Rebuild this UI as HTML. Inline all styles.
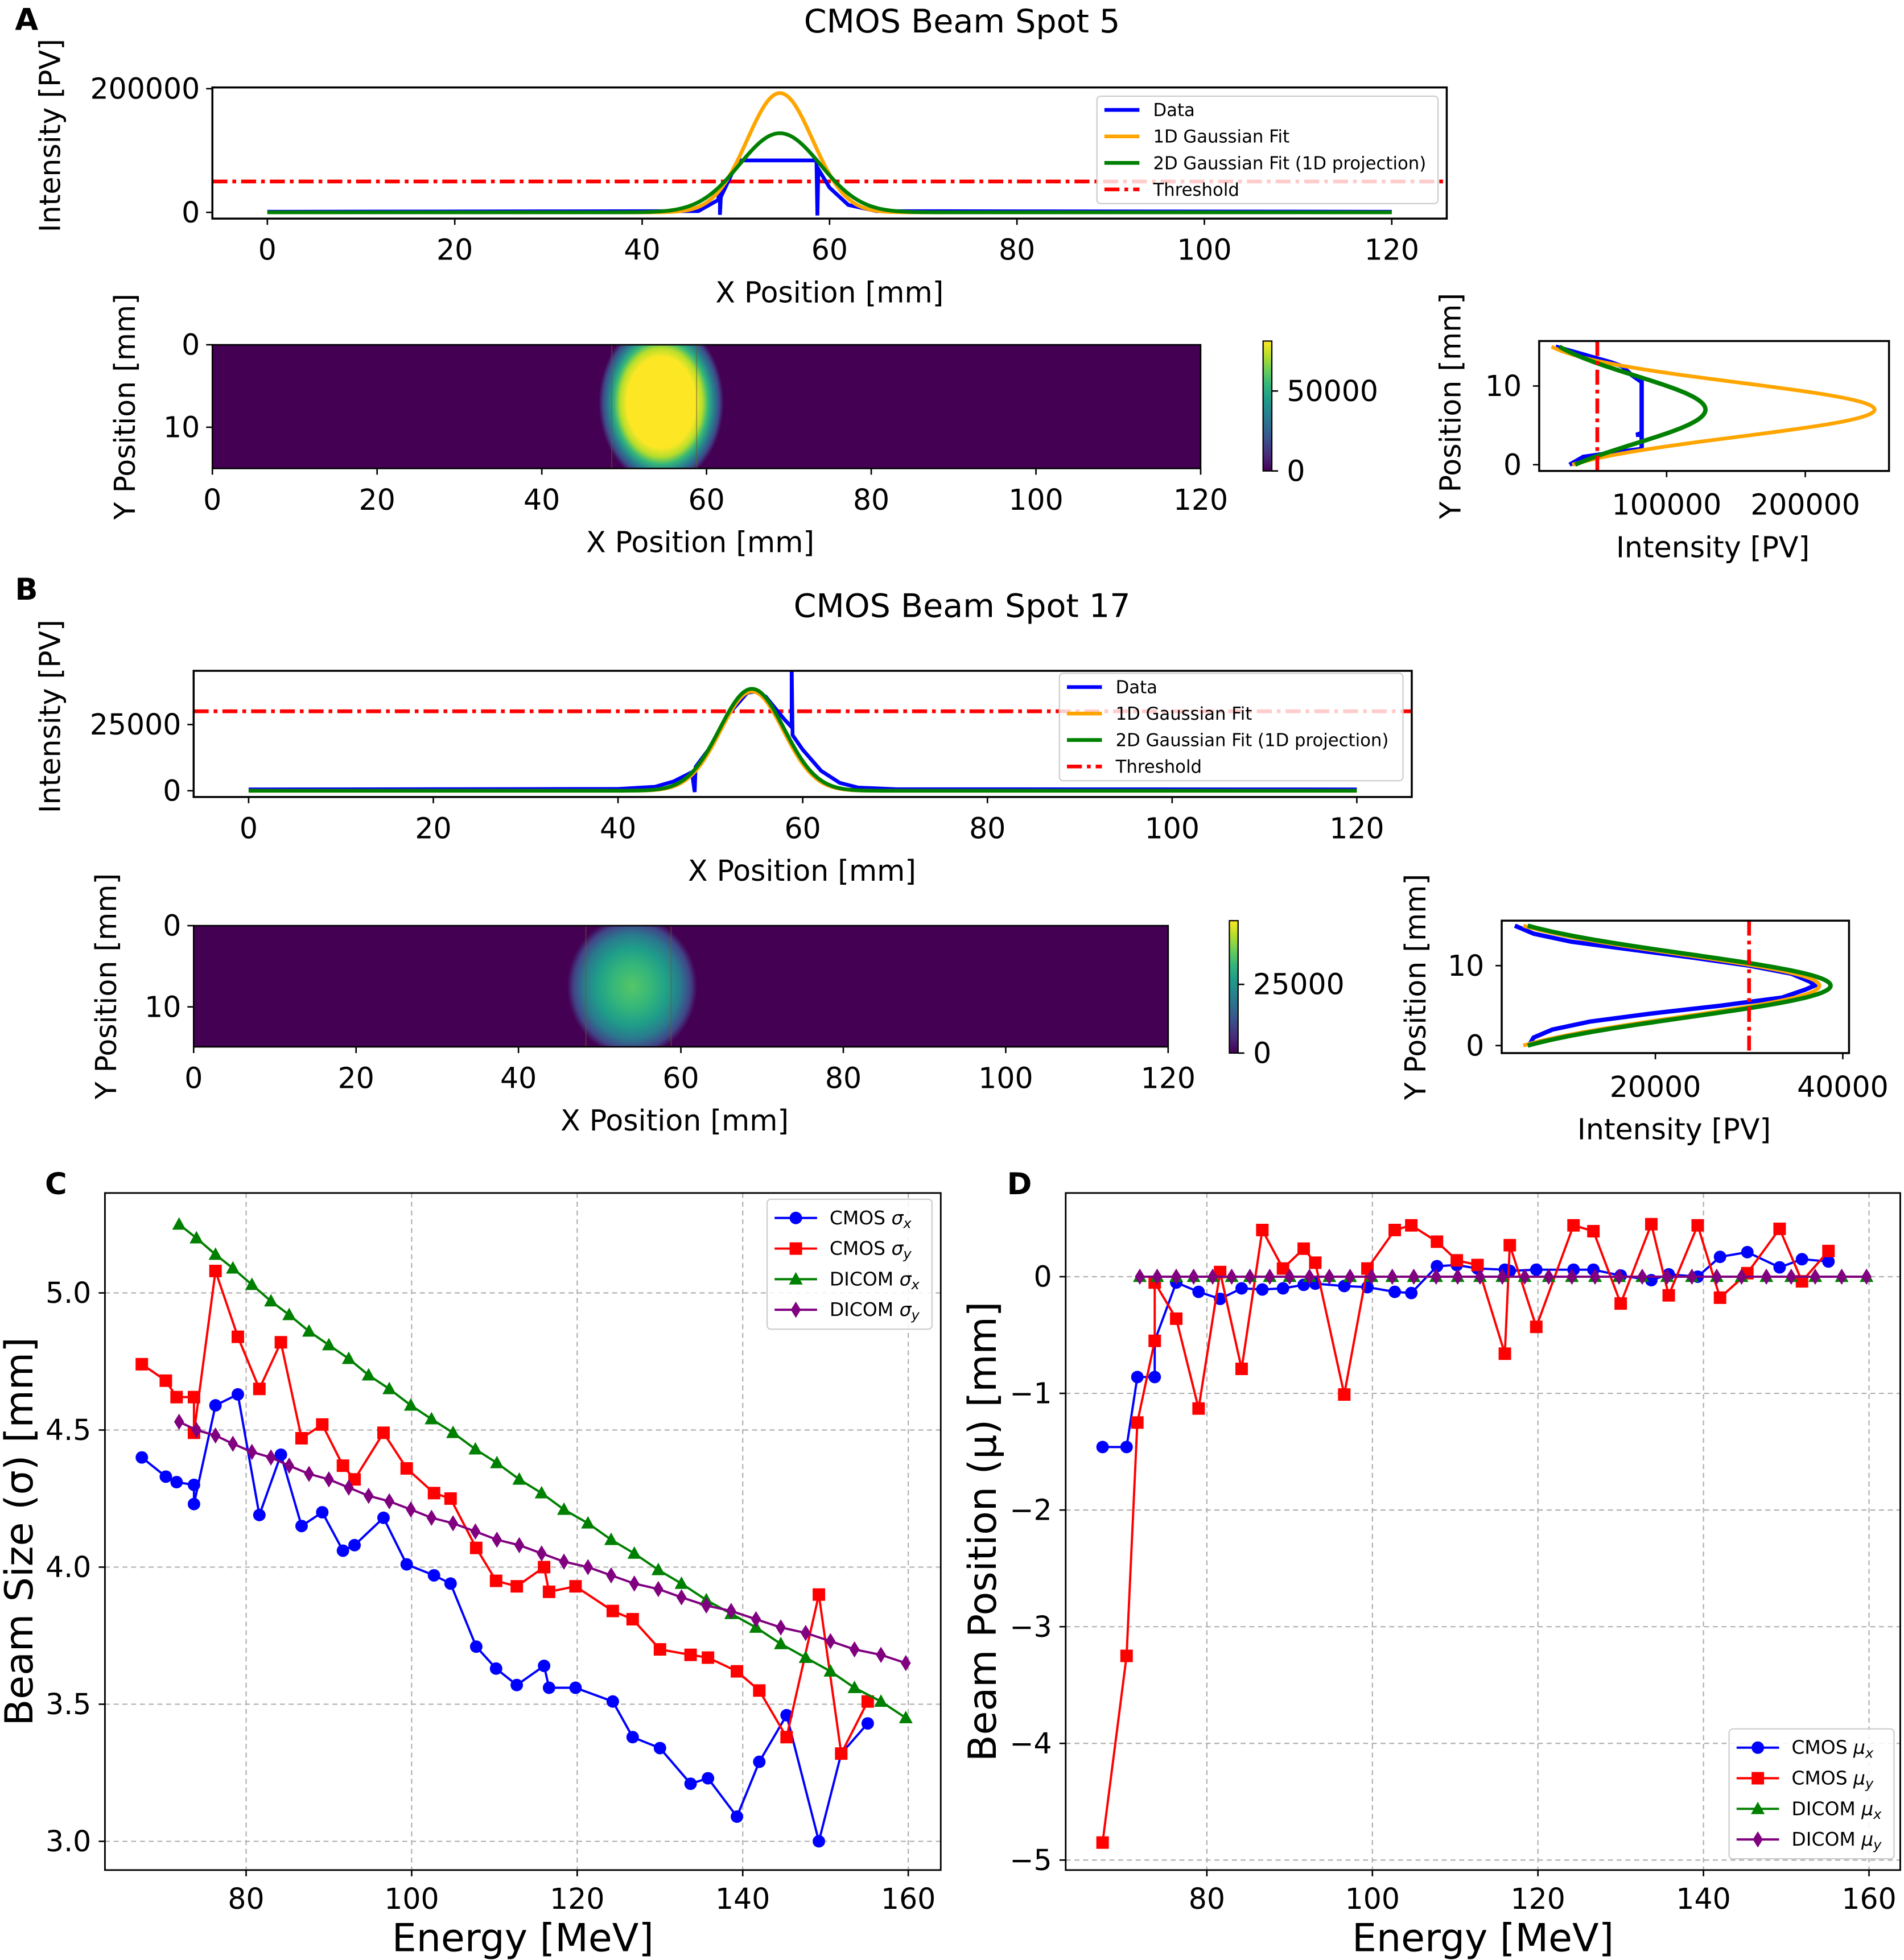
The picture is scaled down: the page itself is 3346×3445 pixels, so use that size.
<!DOCTYPE html>
<html><head><meta charset="utf-8"><style>
html,body{margin:0;padding:0;background:#fff;}
svg{display:block;font-family:"DejaVu Sans","Liberation Sans",sans-serif;}
</style></head><body>
<svg id="fig" width="3346" height="3445" viewBox="0 0 1524 1569" preserveAspectRatio="none" xmlns="http://www.w3.org/2000/svg">
<defs>
<linearGradient id="viridis" x1="0" y1="1" x2="0" y2="0">
<stop offset="0" stop-color="#440154"/><stop offset="0.11" stop-color="#482878"/><stop offset="0.22" stop-color="#3e4989"/><stop offset="0.33" stop-color="#31688e"/><stop offset="0.44" stop-color="#26828e"/><stop offset="0.56" stop-color="#1f9e89"/><stop offset="0.67" stop-color="#35b779"/><stop offset="0.78" stop-color="#6ece58"/><stop offset="0.89" stop-color="#b5de2b"/><stop offset="1" stop-color="#fde725"/>
</linearGradient>
<radialGradient id="spotA">
<stop offset="0" stop-color="#fde725"/><stop offset="0.55" stop-color="#fde725"/><stop offset="0.66" stop-color="#b5de2b"/><stop offset="0.75" stop-color="#35b779"/><stop offset="0.84" stop-color="#26828e"/><stop offset="0.93" stop-color="#3e4989"/><stop offset="1" stop-color="#440154"/>
</radialGradient>
<radialGradient id="spotB">
<stop offset="0" stop-color="#56c667"/><stop offset="0.3" stop-color="#35b779"/><stop offset="0.55" stop-color="#1f9e89"/><stop offset="0.75" stop-color="#2a788e"/><stop offset="0.9" stop-color="#414487"/><stop offset="1" stop-color="#440154"/>
</radialGradient>
<clipPath id="clipA1"><rect x="170" y="70" width="988" height="105"/></clipPath>
<clipPath id="clipB1"><rect x="155" y="537" width="975" height="101"/></clipPath>
<clipPath id="clipHA"><rect x="170" y="276" width="791" height="99"/></clipPath>
<clipPath id="clipHB"><rect x="155" y="741" width="780" height="97"/></clipPath>
<clipPath id="clipPA"><rect x="1232" y="273" width="280" height="104"/></clipPath>
<clipPath id="clipPB"><rect x="1202" y="737" width="278" height="106"/></clipPath>
</defs>
<g id="root"></g>
</svg>
<script>
// ---------- DATA ----------
const cmosE = [67.4,70.3,71.6,73.7,73.7,76.3,79,81.6,84.2,86.7,89.2,91.7,93.1,96.6,99.4,102.7,104.7,107.8,110.2,112.7,116,116.6,119.8,124.3,126.7,130,133.7,135.8,139.3,142,145.3,149.2,151.9,155.1];
const cmosSigX = [4.40,4.33,4.31,4.30,4.23,4.59,4.63,4.19,4.41,4.15,4.20,4.06,4.08,4.18,4.01,3.97,3.94,3.71,3.63,3.57,3.64,3.56,3.56,3.51,3.38,3.34,3.21,3.23,3.09,3.29,3.46,3.00,3.32,3.43];
const cmosSigY = [4.74,4.68,4.62,4.62,4.49,5.08,4.84,4.65,4.82,4.47,4.52,4.37,4.32,4.49,4.36,4.27,4.25,4.07,3.95,3.93,4.00,3.91,3.93,3.84,3.81,3.70,3.68,3.67,3.62,3.55,3.38,3.90,3.32,3.51];
const dicomE = [71.9,74.0,76.3,78.4,80.7,83.0,85.2,87.6,90.0,92.4,94.8,97.3,99.9,102.4,105.0,107.7,110.3,113.0,115.7,118.4,121.3,124.1,126.9,129.8,132.6,135.6,138.6,141.6,144.6,147.6,150.6,153.5,156.7,159.7];
const dicomSigX = [5.25,5.20,5.14,5.09,5.03,4.97,4.92,4.86,4.81,4.76,4.70,4.65,4.59,4.54,4.49,4.43,4.38,4.32,4.27,4.21,4.16,4.10,4.05,3.99,3.94,3.88,3.83,3.78,3.72,3.67,3.62,3.56,3.51,3.45];
const dicomSigY = [4.53,4.50,4.48,4.45,4.42,4.40,4.37,4.34,4.32,4.29,4.26,4.24,4.21,4.18,4.16,4.13,4.10,4.08,4.05,4.02,4.00,3.97,3.94,3.92,3.89,3.86,3.84,3.81,3.78,3.76,3.73,3.70,3.68,3.65];
const cmosMuX = [-1.46,-1.46,-0.86,-0.86,-0.55,-0.05,-0.13,-0.19,-0.10,-0.11,-0.10,-0.07,-0.06,-0.08,-0.09,-0.13,-0.14,0.09,0.10,0.07,0.06,0.05,0.06,0.06,0.06,0.01,-0.03,0.02,0.00,0.17,0.21,0.08,0.15,0.13];
const cmosMuY = [-4.85,-3.25,-1.25,-0.55,-0.05,-0.36,-1.13,0.04,-0.79,0.40,0.07,0.24,0.12,-1.01,0.07,0.40,0.44,0.30,0.14,0.10,-0.66,0.27,-0.43,0.44,0.39,-0.23,0.45,-0.16,0.44,-0.18,0.03,0.41,-0.04,0.22];
const dicomMuX = [0,0,0,0,0,0,0,0,0,0,0,0,0,0,0,0,0,0,0,0,0,0,0,0,0,0,0,0,0,0,0,0,0,0];
const dicomMuY = [0,0,0,0,0,0,0,0,0,0,0,0,0,0,0,0,0,0,0,0,0,0,0,0,0,0,0,0,0,0,0,0,0,0];
const cTicksX = [80,100,120,140,160];
const cTicksY = [3.0,3.5,4.0,4.5,5.0];
const dTicksY = [0,-1,-2,-3,-4,-5];
const dataA_x = [[0,1000],[46,2000],[48.1,20000],[48.3,37000],[48.3,-4000],[48.4,25000],[49.5,60000],[50.2,84000],[58.6,84000],[58.7,-5000],[58.8,70000],[60,40000],[62,12000],[65,2000],[120,1000]];
const fitA1D_x = [193000,54.7,3.5];
const fitA2D_x = [128000,54.7,4.3];
const thrA = [50000];
const dataA_y = [[15,20000],[14,40000],[13,60000],[12.5,68000],[11.5,74000],[10.5,82000],[4,82000],[3.8,78000],[3.8,82000],[2,82000],[1.5,60000],[1,40000],[0,30000]];
const fitA1D_y = [250000,7,3.45];
const fitA2D_y = [128000,7,4.3];
const dataB_x = [[0,500],[40,700],[44,1500],[46,3500],[48,7000],[48.3,-500],[48.4,9000],[50,16500],[52,29000],[54,37000],[55,37500],[56,35500],[58,27000],[58.8,24000],[58.8,48000],[58.9,21000],[60,15500],[62,7500],[64,3000],[66,1200],[70,600],[120,500]];
const fitB1D_x = [37500,54.5,3.4];
const fitB2D_x = [38500,54.5,3.5];
const thrB = [30000];
const dataB_y = [[15,5000],[14,7000],[13,11000],[12,17500],[11,24000],[10,30000],[9,34500],[8,36500],[7.5,37000],[7,36000],[6,33500],[5,27000],[4,19500],[3,13000],[2,9000],[1,7000],[0,6500]];
const fitB1D_y = [37500,7.5,3.9];
const fitB2D_y = [38700,7.5,3.95];

// ---------- HELPERS ----------
const NS='http://www.w3.org/2000/svg';
const root=document.getElementById('root');
function mk(tag,attrs,parent){const e=document.createElementNS(NS,tag);for(const k in attrs)e.setAttribute(k,attrs[k]);(parent||root).appendChild(e);return e;}
function txt(s,x,y,size,anchor,extra){const e=mk('text',Object.assign({x:x,y:y,'font-size':size,'text-anchor':anchor||'middle',fill:'#000'},extra||{}));e.textContent=s;return e;}
function gauss(p,v){return p[0]*Math.exp(-((v-p[1])*(v-p[1]))/(2*p[2]*p[2]));}
function pts(arr){return arr.map(p=>p[0].toFixed(2)+','+p[1].toFixed(2)).join(' ');}

let t;
t=txt('A',12,24,24,'start',{'font-weight':'bold'});


t=txt('B',12,480,24,'start',{'font-weight':'bold'});


t=txt('C',36,956,24,'start',{'font-weight':'bold'});


t=txt('D',806,956,24,'start',{'font-weight':'bold'});


t=txt('CMOS Beam Spot 5',770,26,26);


t=txt('CMOS Beam Spot 17',770,494,26);



function profileX(cfg){
  const g=mk('g',{});
  
  
  const sx=v=>cfg.x0+(v-cfg.d0)*cfg.kx, sy=v=>cfg.y0-v*cfg.ky;
  const cg=mk('g',{'clip-path':'url(#'+cfg.clip+')'},g);
  const th=mk('line',{x1:cfg.bx,x2:cfg.bx+cfg.bw,y1:sy(cfg.thr[0]),y2:sy(cfg.thr[0]),stroke:'#ff0000','stroke-width':3,'stroke-dasharray':'12,4,3,4'},cg);
  
  
  const d=mk('polyline',{points:pts(cfg.data.map(p=>[sx(p[0]),sy(p[1])])),fill:'none',stroke:'#0000ff','stroke-width':3},cg);
  
  
  const p1=[],p2=[];for(let v=0;v<=120;v+=0.25){p1.push([sx(v),sy(gauss(cfg.f1,v))]);p2.push([sx(v),sy(gauss(cfg.f2,v))]);}
  const l1=mk('polyline',{points:pts(p1),fill:'none',stroke:'#ffa500','stroke-width':3},cg);
  
  
  const l2=mk('polyline',{points:pts(p2),fill:'none',stroke:'#008000','stroke-width':3},cg);
  
  
  const fr=mk('rect',{x:cfg.bx,y:cfg.by,width:cfg.bw,height:cfg.bh,fill:'none',stroke:'#000','stroke-width':1.6},g);
  
  
  for(let v=0;v<=120;v+=20){
    const tk=mk('line',{x1:sx(v),x2:sx(v),y1:cfg.by+cfg.bh,y2:cfg.by+cfg.bh+5,stroke:'#000','stroke-width':1.2},g);
    
    
    const tl=txt(String(v),sx(v),cfg.by+cfg.bh+33,23);
    
    
  }
  cfg.yt.forEach(v=>{
    const tk=mk('line',{x1:cfg.bx-5,x2:cfg.bx,y1:sy(v),y2:sy(v),stroke:'#000','stroke-width':1.2},g);
    
    
    const tl=txt(String(v),cfg.bx-10,sy(v)+8,23,'end');
    
    
  });
  const xl=txt('X Position [mm]',cfg.xlx,cfg.by+cfg.bh+67,23);
  
  
  const yl=txt('Intensity [PV]',0,0,23,'middle',{transform:'translate('+cfg.ylx+','+(cfg.by+cfg.bh/2-14)+') rotate(-90)'});
  
  
  const lg=mk('g',{},g);
  
  
  const lb=mk('rect',{x:cfg.lx,y:cfg.ly,width:cfg.lw,height:86,rx:3,fill:'#fff','fill-opacity':0.8,stroke:'#cccccc','stroke-width':1},lg);
  
  
  const items=[['Data','#0000ff'],['1D Gaussian Fit','#ffa500'],['2D Gaussian Fit (1D projection)','#008000'],['Threshold','#ff0000']];
  items.forEach((it,i)=>{
    const yy=cfg.ly+11+i*21.2;
    const sw=mk('line',{x1:cfg.lx+6,x2:cfg.lx+34,y1:yy,y2:yy,stroke:it[1],'stroke-width':3,'stroke-dasharray':i==3?'12,4,3,4':'none'},lg);
    
    
    const lt=txt(it[0],cfg.lx+45,yy+5,14,'start');
    
    
  });
}
profileX({name:'spot5-x-profile',clip:'clipA1',bx:170,by:70,bw:988,bh:105,x0:214,d0:0,kx:7.5,y0:170,ky:0.000495,thr:thrA,data:dataA_x,f1:fitA1D_x,f2:fitA2D_x,yt:[0,200000],xlx:664,ylx:48,lx:878,ly:77,lw:273});
profileX({name:'spot17-x-profile',clip:'clipB1',bx:155,by:537,bw:975,bh:101,x0:199,d0:0,kx:7.392,y0:633,ky:0.00212,thr:thrB,data:dataB_x,f1:fitB1D_x,f2:fitB2D_x,yt:[0,25000],xlx:642,ylx:48,lx:848,ly:539,lw:275});

function heatmap(cfg){
  const g=mk('g',{});
  
  
  const bg=mk('rect',{x:cfg.bx,y:cfg.by,width:cfg.bw,height:cfg.bh,fill:'#440154'},g);
  
  
  const cg=mk('g',{'clip-path':'url(#'+cfg.clip+')'},g);
  const sp=mk('ellipse',{cx:cfg.bx+cfg.cx*cfg.k,cy:cfg.by+cfg.cy*cfg.ky,rx:cfg.rx,ry:cfg.ry,fill:'url(#'+cfg.grad+')'},cg);
  
  
  cfg.edges.forEach(e=>{
    const el=mk('line',{x1:cfg.bx+e*cfg.k,x2:cfg.bx+e*cfg.k,y1:cfg.by,y2:cfg.by+cfg.bh,stroke:'#6b5a2a','stroke-width':0.8,'stroke-opacity':0.6},cg);
    
    
  });
  const fr=mk('rect',{x:cfg.bx,y:cfg.by,width:cfg.bw,height:cfg.bh,fill:'none',stroke:'#000','stroke-width':1.2},g);
  
  
  for(let v=0;v<=120;v+=20){
    const x=cfg.bx+v*cfg.k;
    const tk=mk('line',{x1:x,x2:x,y1:cfg.by+cfg.bh,y2:cfg.by+cfg.bh+5,stroke:'#000','stroke-width':1.2},g);
    
    
    const tl=txt(String(v),x,cfg.by+cfg.bh+33,23);
    
    
  }
  [0,10].forEach(v=>{
    const y=cfg.by+v*cfg.ky;
    const tk=mk('line',{x1:cfg.bx-5,x2:cfg.bx,y1:y,y2:y,stroke:'#000','stroke-width':1.2},g);
    
    
    const tl=txt(String(v),cfg.bx-10,y+8,23,'end');
    
    
  });
  const xl=txt('X Position [mm]',cfg.bx+cfg.bw/2-5,cfg.by+cfg.bh+67,23);
  
  
  const yl=txt('Y Position [mm]',0,0,23,'middle',{transform:'translate('+cfg.ylx+','+(cfg.by+cfg.bh/2)+') rotate(-90)'});
  
  
  const cb=mk('rect',{x:cfg.cbx,y:cfg.cby,width:7,height:cfg.cbh,fill:'url(#viridis)',stroke:'#000','stroke-width':1},g);
  
  
  cfg.cbt.forEach(p=>{
    const tk=mk('line',{x1:cfg.cbx+7,x2:cfg.cbx+12,y1:p[1],y2:p[1],stroke:'#000','stroke-width':1.2},g);
    
    
    const tl=txt(p[0],cfg.cbx+19,p[1]+8,23,'start');
    
    
  });
}
heatmap({name:'spot5-heatmap',clip:'clipHA',grad:'spotA',bx:170,by:276,bw:791,bh:99,k:6.592,ky:6.6,cx:54.5,cy:7,rx:50,ry:66,edges:[48.5,58.8],ylx:108,cbx:1011,cby:273,cbh:104,cbt:[['50000',313],['0',377]]});
heatmap({name:'spot17-heatmap',clip:'clipHB',grad:'spotB',bx:155,by:741,bw:780,bh:97,k:6.5,ky:6.5,cx:54,cy:7.5,rx:52,ry:56,edges:[48.3,58.8],ylx:93,cbx:984,cby:737,cbh:106,cbt:[['25000',788],['0',843]]});

function profileY(cfg){
  const g=mk('g',{});
  
  
  const sx=v=>cfg.x0+v*cfg.kx, sy=v=>cfg.y0-v*cfg.ky;
  const cg=mk('g',{'clip-path':'url(#'+cfg.clip+')'},g);
  const d=mk('polyline',{points:pts(cfg.data.map(p=>[sx(p[1]),sy(p[0])])),fill:'none',stroke:'#0000ff','stroke-width':3.5},cg);
  
  
  const p1=[],p2=[];for(let v=0;v<=15;v+=0.1){p1.push([sx(gauss(cfg.f1,v)),sy(v)]);p2.push([sx(gauss(cfg.f2,v)),sy(v)]);}
  const l1=mk('polyline',{points:pts(p1),fill:'none',stroke:'#ffa500','stroke-width':3},cg);
  
  
  const l2=mk('polyline',{points:pts(p2),fill:'none',stroke:'#008000','stroke-width':3.5},cg);
  
  
  const th=mk('line',{x1:sx(cfg.thr[0]),x2:sx(cfg.thr[0]),y1:cfg.by,y2:cfg.by+cfg.bh,stroke:'#ff0000','stroke-width':3,'stroke-dasharray':'12,4,3,4'},cg);
  
  
  const fr=mk('rect',{x:cfg.bx,y:cfg.by,width:cfg.bw,height:cfg.bh,fill:'none',stroke:'#000','stroke-width':1.6},g);
  
  
  cfg.xt.forEach(v=>{
    const tk=mk('line',{x1:sx(v),x2:sx(v),y1:cfg.by+cfg.bh,y2:cfg.by+cfg.bh+5,stroke:'#000','stroke-width':1.2},g);
    
    
    const tl=txt(String(v),sx(v),cfg.by+cfg.bh+35,23);
    
    
  });
  [0,10].forEach(v=>{
    const tk=mk('line',{x1:cfg.bx-5,x2:cfg.bx,y1:sy(v),y2:sy(v),stroke:'#000','stroke-width':1.2},g);
    
    
    const tl=txt(String(v),cfg.bx-14,sy(v)+8,23,'end');
    
    
  });
  const xl=txt('Intensity [PV]',cfg.xlx,cfg.by+cfg.bh+69,23);
  
  
  const yl=txt('Y Position [mm]',0,0,23,'middle',{transform:'translate('+cfg.ylx+','+(cfg.by+cfg.bh/2)+') rotate(-90)'});
  
  
}
profileY({name:'spot5-y-profile',clip:'clipPA',bx:1232,by:273,bw:280,bh:104,x0:1223,kx:0.00111,y0:372,ky:6.3,data:dataA_y,f1:fitA1D_y,f2:fitA2D_y,thr:thrA,xt:[100000,200000],xlx:1371,ylx:1169});
profileY({name:'spot17-y-profile',clip:'clipPB',bx:1202,by:737,bw:278,bh:106,x0:1175,kx:0.0075,y0:837,ky:6.4,data:dataB_y,f1:fitB1D_y,f2:fitB2D_y,thr:thrB,xt:[20000,40000],xlx:1340,ylx:1141});

function marker(g,shape,x,y,color,s){
  let e;
  if(shape==='o') e=mk('circle',{cx:x,cy:y,r:s,fill:color},g);
  else if(shape==='s') e=mk('rect',{x:x-s,y:y-s,width:2*s,height:2*s,fill:color},g);
  else if(shape==='^') e=mk('polygon',{points:(x)+','+(y-s*1.15)+' '+(x-s*1.1)+','+(y+s*0.85)+' '+(x+s*1.1)+','+(y+s*0.85),fill:color},g);
  else e=mk('polygon',{points:x+','+(y-s*1.3)+' '+(x+s*0.8)+','+y+' '+x+','+(y+s*1.3)+' '+(x-s*0.8)+','+y,fill:color},g);
  return e;
}

function lineChart(cfg){
  const g=mk('g',{});
  
  
  const sx=v=>cfg.x0+(v-80)*cfg.kx, sy=v=>cfg.y0-(v-cfg.v0)*cfg.ky;
  cfg.yt.forEach(v=>{
    const gl=mk('line',{x1:cfg.bx,x2:cfg.bx+cfg.bw,y1:sy(v),y2:sy(v),stroke:'#b0b0b0','stroke-width':1,'stroke-dasharray':'4,3'},g);
    
    
  });
  cTicksX.forEach(v=>{
    const gl=mk('line',{x1:sx(v),x2:sx(v),y1:cfg.by,y2:cfg.by+cfg.bh,stroke:'#b0b0b0','stroke-width':1,'stroke-dasharray':'4,3'},g);
    
    
  });
  cfg.series.forEach(s=>{
    const sg=mk('g',{},g);
    
    
    const pl=mk('polyline',{points:pts(s.x.map((e,i)=>[sx(e),sy(s.y[i])])),fill:'none',stroke:s.c,'stroke-width':1.8},sg);
    
    
    s.x.forEach((e,i)=>{
      const m=marker(sg,s.m,sx(e),sy(s.y[i]),s.c,5);
      
      
    });
  });
  const fr=mk('rect',{x:cfg.bx,y:cfg.by,width:cfg.bw,height:cfg.bh,fill:'none',stroke:'#000','stroke-width':1.3},g);
  
  
  cTicksX.forEach(v=>{
    const tk=mk('line',{x1:sx(v),x2:sx(v),y1:cfg.by+cfg.bh,y2:cfg.by+cfg.bh+5,stroke:'#000','stroke-width':1.2},g);
    
    
    const tl=txt(String(v),sx(v),cfg.by+cfg.bh+31,23);
    
    
  });
  cfg.yt.forEach(v=>{
    const tk=mk('line',{x1:cfg.bx-5,x2:cfg.bx,y1:sy(v),y2:sy(v),stroke:'#000','stroke-width':1.2},g);
    
    
    const lab=cfg.fmt(v);
    const tl=txt(lab,cfg.bx-11,sy(v)+8,23,'end');
    
    
  });
  const xl=txt('Energy [MeV]',cfg.bx+cfg.bw/2,1562,31);
  
  
  const yl=txt(cfg.ylabel,0,0,31,'middle',{transform:'translate('+cfg.ylx+','+(cfg.by+cfg.bh/2)+') rotate(-90)'});
  
  
  const lg=mk('g',{},g);
  
  
  const lb=mk('rect',{x:cfg.lx,y:cfg.ly,width:132,height:104,rx:3,fill:'#fff','fill-opacity':0.85,stroke:'#cccccc','stroke-width':1},lg);
  
  
  cfg.series.forEach((s,i)=>{
    const yy=cfg.ly+15+i*24.5;
    const sw=mk('line',{x1:cfg.lx+6,x2:cfg.lx+40,y1:yy,y2:yy,stroke:s.c,'stroke-width':1.8},lg);
    
    
    const m=marker(lg,s.m,cfg.lx+23,yy,s.c,5);
    
    
    const lt=mk('text',{x:cfg.lx+50,y:yy+5,'font-size':15,fill:'#000'},lg);
    
    
    lt.textContent=s.label+' ';
    const ts=mk('tspan',{'font-style':'italic'},lt);ts.textContent=cfg.sym;
    const sub=mk('tspan',{'font-style':'italic','font-size':11,dy:3},lt);sub.textContent=s.sub;
  });
}
lineChart({name:'beam-size-chart',bx:84,by:955,bw:669,bh:542,x0:197,kx:6.625,y0:1474,v0:3,ky:219.5,yt:cTicksY,fmt:v=>v.toFixed(1),ylabel:'Beam Size (σ) [mm]',ylx:26,lx:614,ly:960,sym:'σ',
  series:[{name:'cmos-sigma-x-series',x:cmosE,y:cmosSigX,c:'#0000ff',m:'o',label:'CMOS',sub:'x'},{name:'cmos-sigma-y-series',x:cmosE,y:cmosSigY,c:'#ff0000',m:'s',label:'CMOS',sub:'y'},{name:'dicom-sigma-x-series',x:dicomE,y:dicomSigX,c:'#008000',m:'^',label:'DICOM',sub:'x'},{name:'dicom-sigma-y-series',x:dicomE,y:dicomSigY,c:'#800080',m:'d',label:'DICOM',sub:'y'}]});
lineChart({name:'beam-position-chart',bx:853,by:955,bw:668,bh:542,x0:966,kx:6.625,y0:1022,v0:0,ky:93.4,yt:dTicksY,fmt:v=>v<0?'−'+Math.abs(v):String(v),ylabel:'Beam Position (μ) [mm]',ylx:797,lx:1384,ly:1384,sym:'μ',
  series:[{name:'cmos-mu-x-series',x:cmosE,y:cmosMuX,c:'#0000ff',m:'o',label:'CMOS',sub:'x'},{name:'cmos-mu-y-series',x:cmosE,y:cmosMuY,c:'#ff0000',m:'s',label:'CMOS',sub:'y'},{name:'dicom-mu-x-series',x:dicomE,y:dicomMuX,c:'#008000',m:'^',label:'DICOM',sub:'x'},{name:'dicom-mu-y-series',x:dicomE,y:dicomMuY,c:'#800080',m:'d',label:'DICOM',sub:'y'}]});
</script>
</body></html>
